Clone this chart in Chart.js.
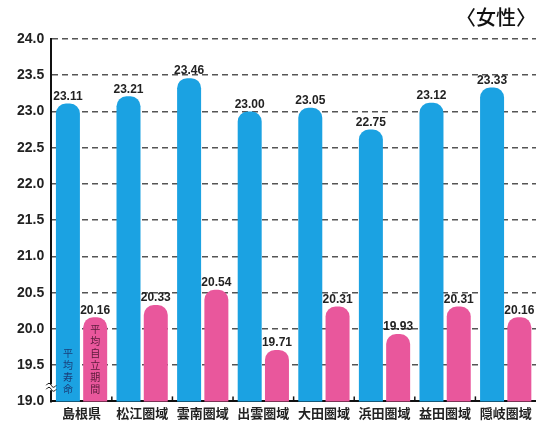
<!DOCTYPE html>
<html>
<head>
<meta charset="utf-8">
<style>
  body { margin: 0; background: #fff; }
  #wrap { width: 536px; height: 425px; }
</style>
<script src="https://cdn.jsdelivr.net/npm/chart.js@4.4.0/dist/chart.umd.min.js"></script>
</head>
<body>
<div id="wrap"><canvas id="myChart"></canvas></div>
<script>
  var areaNames = ['島根県', '松江圏域', '雲南圏域', '出雲圏域', '大田圏域', '浜田圏域', '益田圏域', '隠岐圏域'];
  var lifeExpectancy = [23.11, 23.21, 23.46, 23.00, 23.05, 22.75, 23.12, 23.33];
  var independentYears = [20.16, 20.33, 20.54, 19.71, 20.31, 19.93, 20.31, 20.16];
  var seriesNames = ['平均寿命', '平均自立期間'];

  var jpFont = "'Noto Sans CJK JP', sans-serif";

  // numbers over the bars + vertical series names inside the first pair
  var barLabels = {
    id: 'barLabels',
    afterDatasetsDraw: function (chart) {
      var ctx = chart.ctx;
      ctx.save();
      chart.data.datasets.forEach(function (ds, di) {
        var meta = chart.getDatasetMeta(di);
        meta.data.forEach(function (bar, i) {
          ctx.font = "bold 12px 'Liberation Sans Narrow', 'Liberation Sans', sans-serif";
          ctx.fillStyle = '#222';
          ctx.textAlign = 'center';
          ctx.textBaseline = 'bottom';
          ctx.fillText(ds.data[i].toFixed(2), bar.x, bar.y - 1);
        });
        // series name written top to bottom in the first bar
        var first = meta.data[0];
        var chars = seriesNames[di].split('');
        var bottom = chart.scales.y.getPixelForValue(19) - 6;
        var step = 12;
        ctx.font = '10px ' + jpFont;
        ctx.fillStyle = di == 0 ? '#1a3f7a' : '#5a1a3a';
        ctx.textBaseline = 'middle';
        for (var c = 0; c < chars.length; c++) {
          var y = bottom - (chars.length - c) * step + step / 2;
          ctx.fillText(chars[c], first.x, y);
        }
      });
      ctx.restore();
    }
  };

  // little ticks at the group boundaries and the axis break mark
  var axisBits = {
    id: 'axisBits',
    afterDraw: function (chart) {
      var ctx = chart.ctx;
      var x = chart.scales.x, y = chart.scales.y;
      var base = y.getPixelForValue(19);
      ctx.save();
      ctx.strokeStyle = '#111';
      ctx.lineWidth = 1.5;
      for (var i = 1; i < areaNames.length; i++) {
        var px = (x.getPixelForValue(i - 1) + x.getPixelForValue(i)) / 2;
        ctx.beginPath();
        ctx.moveTo(px, base);
        ctx.lineTo(px, base - 5);
        ctx.stroke();
      }
      // break mark on the y axis
      var bx = chart.chartArea.left;
      var by = (y.getPixelForValue(19) + y.getPixelForValue(19.5)) / 2 + 4;
      ctx.fillStyle = '#fff';
      ctx.fillRect(bx - 3, by - 3, 6, 6);
      ctx.lineWidth = 1;
      for (var k = 0; k < 2; k++) {
        ctx.beginPath();
        ctx.moveTo(bx - 5, by - 2 + k * 4);
        ctx.quadraticCurveTo(bx - 2, by - 6 + k * 4, bx, by - 2 + k * 4);
        ctx.quadraticCurveTo(bx + 2, by + 2 + k * 4, bx + 5, by - 2 + k * 4);
        ctx.stroke();
      }
      ctx.restore();
    }
  };

  var paintingCanvas = document.getElementById('myChart').getContext('2d');
  var chart = new Chart(paintingCanvas, {
    type: 'bar',
    data: {
      labels: areaNames,
      datasets: [
        {
          label: seriesNames[0],
          data: lifeExpectancy,
          backgroundColor: '#1ba2e2',
          borderRadius: { topLeft: 10, topRight: 10 },
          borderSkipped: 'bottom',
          categoryPercentage: 0.9,
          barPercentage: 0.88
        },
        {
          label: seriesNames[1],
          data: independentYears,
          backgroundColor: '#e9579c',
          borderRadius: { topLeft: 10, topRight: 10 },
          borderSkipped: 'bottom',
          categoryPercentage: 0.9,
          barPercentage: 0.88
        }
      ]
    },
    options: {
      responsive: true,
      maintainAspectRatio: false,
      animation: false,
      layout: { padding: { left: 10, right: 0, top: 0, bottom: 0 } },
      plugins: {
        legend: { display: false },
        tooltip: { enabled: false },
        title: {
          display: true,
          text: '〈女性〉',
          align: 'end',
          color: '#111',
          font: { family: jpFont, size: 20, weight: '500' },
          padding: { top: 5, bottom: 10 }
        }
      },
      scales: {
        x: {
          grid: { display: false, drawTicks: false },
          border: { display: true, color: '#111', width: 2 },
          ticks: {
            color: '#222',
            font: { family: jpFont, size: 13, weight: 'bold' },
            padding: 4
          }
        },
        y: {
          min: 19,
          max: 24,
          ticks: {
            stepSize: 0.5,
            color: '#222',
            padding: 7,
            font: { family: "'Liberation Sans', Arial, sans-serif", size: 14, weight: 'bold' },
            callback: function (v) { return v.toFixed(1); }
          },
          grid: {
            color: function (c) { return c.tick && c.tick.value == 19 ? 'rgba(0,0,0,0)' : '#555'; },
            lineWidth: 1.5,
            drawTicks: false
          },
          border: { display: true, color: '#111', width: 2, dash: [6, 4] }
        }
      }
    },
    plugins: [barLabels, axisBits]
  });
</script>
</body>
</html>
